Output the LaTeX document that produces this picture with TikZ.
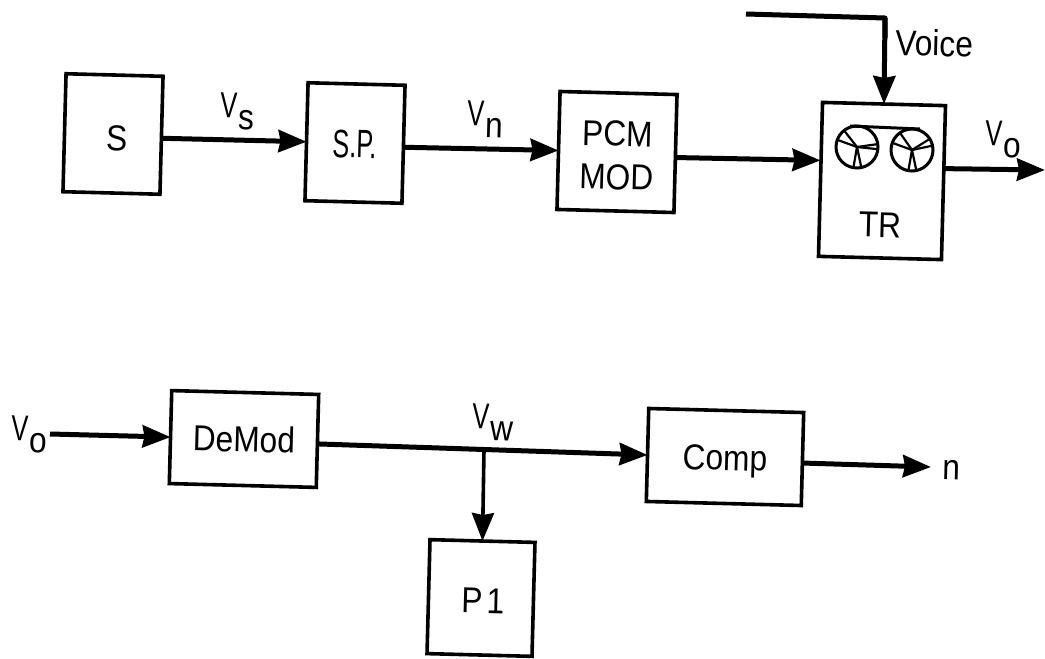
\documentclass[tikz,border=0pt]{standalone}
\usepackage{fontspec}
\setmainfont[FakeStretch=0.88]{Liberation Sans}
\usetikzlibrary{arrows.meta}
\newcommand{\sigv}[1]{\scalebox{.8}[1]{V}\kern1pt\raisebox{-12pt}{#1}}
\begin{document}
\begin{tikzpicture}[
        x=1pt, y=-1pt,
        block/.style={draw, line width=3.6pt, rotate=-1.5, inner sep=0pt, outer sep=0pt, align=center, font=\fontsize{36}{43}\selectfont},
        sig_label/.style={anchor=base west, inner sep=0pt, rotate=-1.5, font=\fontsize{36}{43}\selectfont},
        wire/.style={draw, line width=5pt},
        flow/.style={wire, -{Stealth[length=28pt, width=22pt, inset=2pt]}},
        spoke/.style={draw, line width=2.2pt},
        reel/.style={draw, line width=3pt}
    ]
	\useasboundingbox (0,0) rectangle (1045,659);
	\node[block, minimum width=97pt, minimum height=118pt, text height=34pt] (s) at (113,134) {\hspace*{8pt}S};
	\node[block, minimum width=97pt, minimum height=118pt, text height=30pt] (sp) at (355,143) {\scalebox{.8}[1.1]{S.P.}};
	\node[block, minimum width=117pt, minimum height=118pt] (pcm) at (617,152) {\rule{0pt}{32pt}PCM\\MOD};
	\node[block, minimum width=123pt, minimum height=154pt] (tr) at (882,181) {};
	\node[block, draw=none, fill=none] (tr_text) at (880,225) {TR};
	\node[block, minimum width=147pt, minimum height=93pt] (demod) at (244,439) {DeMod};
	\node[block, minimum width=155pt, minimum height=93pt, text height=34pt] (comp) at (725,457) {Comp};
	\node[block, minimum width=105pt, minimum height=114pt, text height=30pt] (p1) at (481,598) {\hspace*{4pt}P\kern4pt 1};
	\node[sig_label] (v_s) at (220,117) {\sigv{s}};
	\node[sig_label] (v_n) at (467,125) {\sigv{n}};
	\node[sig_label] (v_o) at (985,145) {\sigv{o}};
	\node[sig_label] (v_in) at (11,440) {\sigv{o}};
	\node[sig_label] (v_w) at (472,428) {\sigv{w}};
	\node[sig_label] (voice) at (895,55) {Voice};
	\node[sig_label] (n) at (942,479) {n};
	\coordinate (voice_start) at (746,14);
	\coordinate (voice_bend) at (885,18);
	\coordinate (tr_out) at (1045,170);
	\coordinate (in_start) at (50,434);
	\coordinate (branch) at (484,450);
	\coordinate (n_end) at (931,467);
	\coordinate (reel_a) at (857,147);
	\coordinate (reel_b) at (912,150);
	\coordinate (tape_a) at (850,126);
	\coordinate (tape_b) at (920,129);
	\draw[flow] ([yshift=-3pt]s.east) -- (sp.west);
	\draw[flow] ([yshift=-3pt]sp.east) -- (pcm.west);
	\draw[flow] ([yshift=-4pt]pcm.east) -- ([yshift=19pt]tr.west);
	\draw[flow] ([yshift=14pt]tr.east) -- (tr_out);
	\draw[wire, line join=round] (voice_start) -- (voice_bend) -- ++(0,20);
	\draw[flow] (voice_bend) -- (tr.north);
	\draw[flow] (in_start) -- (demod.west);
	\draw[flow] ([yshift=-3pt]demod.east) -- (comp.west);
	\draw[flow, line width=3.6pt] (branch) -- (p1.north);
	\draw[flow] ([yshift=-4pt]comp.east) -- (n_end);
	\draw[reel] (reel_a) circle (21);
	\draw[reel] (reel_b) circle (21);
	\draw[reel] (tape_a) -- (tape_b);
	\foreach \ang in {-8,6,78,100,200,232} \draw[spoke] (reel_a) -- ++(\ang:20);
	\foreach \ang in {-32,-12,78,100,200,235} \draw[spoke] (reel_b) -- ++(\ang:20);
\end{tikzpicture}
\end{document}
